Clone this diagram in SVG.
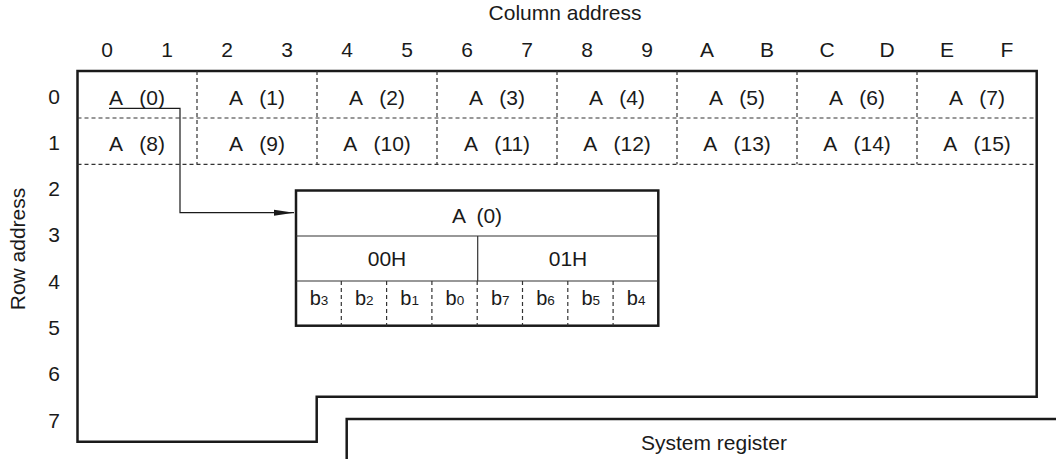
<svg xmlns="http://www.w3.org/2000/svg" width="1056" height="459" viewBox="0 0 1056 459">
<defs>
<style>
text{font-family:"Liberation Sans",Arial,sans-serif;font-size:21px;fill:#1a1a1a;white-space:pre}
.m{text-anchor:middle}
.thick{fill:none;stroke:#1a1a1a;stroke-width:2.5}
.thin{fill:none;stroke:#333;stroke-width:1.2}
.dash{fill:none;stroke:#333;stroke-width:1.2;stroke-dasharray:4 3}
.bit{font-size:20px}
.sub{font-size:13.5px}
</style>
<marker id="arr" markerWidth="20" markerHeight="8" refX="20" refY="4" orient="auto" markerUnits="userSpaceOnUse">
<path d="M0,1 L20,4 L0,7 Z" fill="#1a1a1a"/>
</marker>
</defs>
<rect width="1056" height="459" fill="#fff"/>

<g id="labels">
<text class="m" x="565" y="20">Column address</text>
<text class="m" x="107" y="57">0</text>
<text class="m" x="167" y="57">1</text>
<text class="m" x="227" y="57">2</text>
<text class="m" x="287" y="57">3</text>
<text class="m" x="347" y="57">4</text>
<text class="m" x="407" y="57">5</text>
<text class="m" x="467" y="57">6</text>
<text class="m" x="527" y="57">7</text>
<text class="m" x="587" y="57">8</text>
<text class="m" x="647" y="57">9</text>
<text class="m" x="707" y="57">A</text>
<text class="m" x="767" y="57">B</text>
<text class="m" x="827" y="57">C</text>
<text class="m" x="887" y="57">D</text>
<text class="m" x="947" y="57">E</text>
<text class="m" x="1007" y="57">F</text>
<text class="m" transform="translate(25,249) rotate(-90)">Row address</text>
<text class="m" x="54" y="103.5">0</text>
<text class="m" x="54" y="149.8">1</text>
<text class="m" x="54" y="196.1">2</text>
<text class="m" x="54" y="242.4">3</text>
<text class="m" x="54" y="288.7">4</text>
<text class="m" x="54" y="335">5</text>
<text class="m" x="54" y="381.3">6</text>
<text class="m" x="54" y="427.6">7</text>
</g>

<g id="memory">
<path class="thick" d="M77.5,71 H1036.7 V396.7 H316.7 V441.7 H77.5 Z"/>
<path class="dash" d="M77.5,118 H1036.7 M77.5,164.3 H1036.7"/>
<path class="dash" d="M197,71 V164.3 M317,71 V164.3 M437,71 V164.3 M557,71 V164.3 M677,71 V164.3 M797,71 V164.3 M917,71 V164.3"/>
</g>

<g id="cells">
<text class="m" x="137" y="105">A   (0)</text>
<text class="m" x="257" y="105">A   (1)</text>
<text class="m" x="377" y="105">A   (2)</text>
<text class="m" x="497" y="105">A   (3)</text>
<text class="m" x="617" y="105">A   (4)</text>
<text class="m" x="737" y="105">A   (5)</text>
<text class="m" x="857" y="105">A   (6)</text>
<text class="m" x="977" y="105">A   (7)</text>
<text class="m" x="137" y="151">A   (8)</text>
<text class="m" x="257" y="151">A   (9)</text>
<text class="m" x="377" y="151">A   (10)</text>
<text class="m" x="497" y="151">A   (11)</text>
<text class="m" x="617" y="151">A   (12)</text>
<text class="m" x="737" y="151">A   (13)</text>
<text class="m" x="857" y="151">A   (14)</text>
<text class="m" x="977" y="151">A   (15)</text>
</g>

<g id="register-A0">
<rect x="296" y="190.5" width="362.3" height="135.2" fill="#fff" stroke="#1a1a1a" stroke-width="2.5"/>
<path class="thin" d="M296,236 H658.3 M296,281 H658.3 M477.7,236 V281"/>
<path class="dash" d="M341.3,281 V325.7 M386.6,281 V325.7 M431.9,281 V325.7 M477.2,281 V325.7 M522.5,281 V325.7 M567.8,281 V325.7 M613.1,281 V325.7"/>
<text class="m" x="477" y="222.5">A  (0)</text>
<text class="m" x="387" y="266">00H</text>
<text class="m" x="568" y="266">01H</text>
<text class="m bit" x="319" y="305">b<tspan class="sub">3</tspan></text>
<text class="m bit" x="364.3" y="305">b<tspan class="sub">2</tspan></text>
<text class="m bit" x="409.6" y="305">b<tspan class="sub">1</tspan></text>
<text class="m bit" x="454.9" y="305">b<tspan class="sub">0</tspan></text>
<text class="m bit" x="500.2" y="305">b<tspan class="sub">7</tspan></text>
<text class="m bit" x="545.5" y="305">b<tspan class="sub">6</tspan></text>
<text class="m bit" x="590.8" y="305">b<tspan class="sub">5</tspan></text>
<text class="m bit" x="636.1" y="305">b<tspan class="sub">4</tspan></text>
</g>

<g id="system-register">
<path class="thick" d="M346.7,462 V419 H1060"/>
<text x="641" y="450">System register</text>
</g>

<g id="connectors">
<path fill="none" stroke="#1a1a1a" stroke-width="1.2" d="M109,108.3 H180 V212.7 H294" marker-end="url(#arr)"/>
</g>
</svg>
